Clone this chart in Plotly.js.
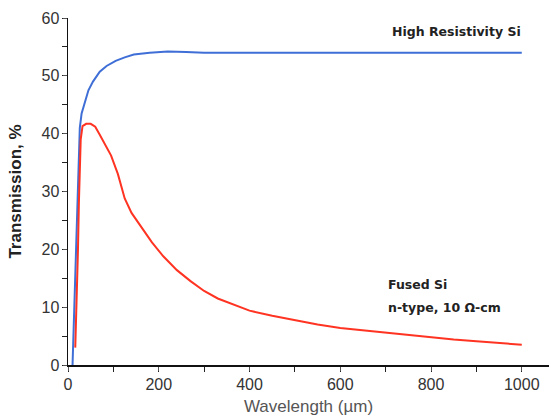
<!DOCTYPE html>
<html><head><meta charset="utf-8">
<script src="https://cdn.plot.ly/plotly-3.0.1.min.js"></script>
<style>html,body{margin:0;padding:0;background:#fff}#c{width:551px;height:418px}</style>
</head><body><div id="c"></div>
<script>
const hrX = [10,12,14,17,20,23,26,30,35,45,55,70,85,105,125,145,180,220,260,300,400,500,600,700,800,900,1000];
const hrY = [0,5,10,20,28,36,41,43.5,45,47.5,49,50.7,51.7,52.6,53.2,53.7,54.0,54.2,54.1,54.0,54.0,54.0,54.0,54.0,54.0,54.0,54.0];
const fsX = [16,18,20,22,24,26,28,32,40,50,60,70,80,95,110,125,140,160,185,210,240,270,300,330,370,400,450,500,550,600,650,700,750,800,850,900,950,1000];
const fsY = [3,8,13,20,28,35,39,41.3,41.7,41.7,41.2,39.8,38.3,36.2,33,28.8,26.3,24,21.2,18.8,16.4,14.5,12.8,11.5,10.3,9.4,8.5,7.7,7.0,6.4,6.0,5.5,5.1,4.7,4.4,4.1,3.8,3.5];
const xTicks = [0,200,400,600,800,1000];
const yTicks = [0,10,20,30,40,50,60];

const font = "Liberation Sans, Arial, sans-serif";
const afont = "DejaVu Sans, sans-serif";
Plotly.newPlot('c', [
  {x: hrX, y: hrY, mode: 'lines', line: {color: '#3f6fd6', width: 2}, hoverinfo: 'none'},
  {x: fsX, y: fsY, mode: 'lines', line: {color: '#ff3322', width: 2}, hoverinfo: 'none'}
], {
  width: 551, height: 418,
  margin: {l: 68, r: 2, t: 18, b: 53},
  showlegend: false,
  paper_bgcolor: '#fff', plot_bgcolor: '#fff',
  font: {family: font, color: '#333'},
  xaxis: {
    range: [0, 1060], tickvals: xTicks, ticktext: xTicks.map(String),
    showgrid: false, zeroline: false, showline: true, linecolor: '#111', linewidth: 1.5,
    ticks: 'outside', ticklen: 4, tickcolor: '#555', tickfont: {size: 16, color: '#333'},
    minor: {dtick: 100, tick0: 0, ticks: 'outside', ticklen: 5, tickcolor: '#222'},
    title: {text: 'Wavelength (µm)', font: {size: 17, color: '#555'}, standoff: 8}
  },
  yaxis: {
    range: [0, 60], tickvals: yTicks, ticktext: yTicks.map(String),
    showgrid: false, zeroline: false, showline: true, linecolor: '#111', linewidth: 1.5,
    ticks: 'outside', ticklen: 4, tickcolor: '#555', tickfont: {size: 16, color: '#333'},
    minor: {dtick: 5, tick0: 0, ticks: 'outside', ticklen: 5, tickcolor: '#222'},
    title: {text: '<b>Transmission, %</b>', font: {size: 17, color: '#222'}, standoff: 15}
  },
  annotations: [
    {x: 710, y: 57.6, xref: 'x', yref: 'y', xanchor: 'left', yanchor: 'middle', showarrow: false,
     text: '<b>High Resistivity Si</b>', font: {size: 12.5, color: '#222', family: afont}},
    {x: 700, y: 14.0, xref: 'x', yref: 'y', xanchor: 'left', yanchor: 'middle', showarrow: false,
     text: '<b>Fused Si</b>', font: {size: 12.5, color: '#222', family: afont}},
    {x: 700, y: 10.0, xref: 'x', yref: 'y', xanchor: 'left', yanchor: 'middle', showarrow: false,
     text: '<b>n-type, 10 Ω-cm</b>', font: {size: 12.5, color: '#222', family: afont}}
  ]
}, {displayModeBar: false, staticPlot: true});
</script></body></html>
